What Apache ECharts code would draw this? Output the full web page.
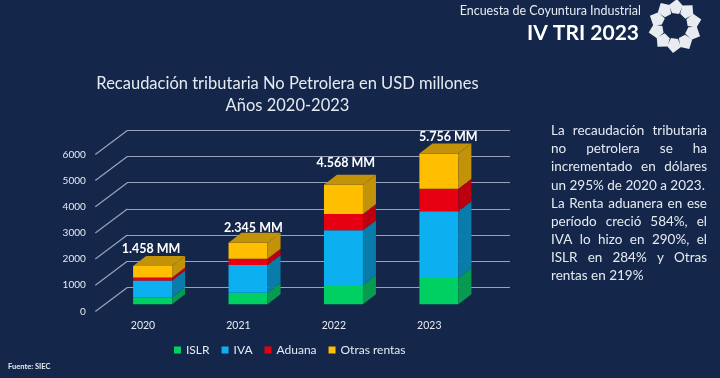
<!DOCTYPE html>
<html style="height: 100%">
<head>
  <meta charset="utf-8">
  <title>Recaudación tributaria No Petrolera</title>
</head>
<body style="height: 100%; width:100%; margin: 0; background:#14264a">
<div id="container" style="width:720px; height:378px"></div>
<script src="https://cdn.jsdelivr.net/npm/echarts@6/dist/echarts.min.js"></script>
<script type="text/javascript">
var years = ['2020', '2021', '2022', '2023'];
var islr = [270, 440, 730, 1000];
var iva = [640, 1060, 2100, 2550];
var aduana = [110, 240, 620, 860];
var otras = [438, 605, 1118, 1346];
var totalLabels = ['1.458 MM', '2.345 MM', '4.568 MM', '5.756 MM'];
var yTicks = [0, 1000, 2000, 3000, 4000, 5000, 6000];
var seriesNames = ['ISLR', 'IVA', 'Aduana', 'Otras rentas'];
var seriesValues = [islr, iva, aduana, otras];
var frontColors = ['#00cf62', '#0cb0f0', '#e60012', '#ffbf00'];
var sideColors = ['#079a50', '#0a7cab', '#bb0010', '#c29208'];
var bodyLines = [
  'La recaudación tributaria',
  'no petrolera se ha',
  'incrementado en dólares',
  'un 295% de 2020 a 2023.',
  'La Renta aduanera en ese',
  'período creció 584%, el',
  'IVA lo hizo en 290%, el',
  'ISLR en 284% y Otras',
  'rentas en 219%'
];
var raggedLines = [3, 8];   // lines that are not stretched to the column

var textColor = '#e6ebf2';
var gridColor = '#98a3bb';
var fontName = 'Lato, "Open Sans", sans-serif';

// the floor runs from the front plane to the back wall
var wallDx = 32, wallDy = -24;
// the bars stand a bit behind the front edge of the floor
var barDx = 9.6, barDy = -7.2;
var depthDx = 13, depthDy = -10;
var barWidth = 39;
// the totals were placed by hand in the original, they do not sit evenly over the bars
var labelNudgeX = [8, 15, 12, 19];
var labelNudgeY = [-7, -5, -12, -7];

var dom = document.getElementById('container');
var myChart = echarts.init(dom);

function stackedData(k) {
  return years.map(function (y, i) {
    var start = 0;
    for (var j = 0; j < k; j++) start += seriesValues[j][i];
    return [i, start, start + seriesValues[k][i]];
  });
}

function boxSeries(k) {
  var isTop = k === seriesValues.length - 1;
  return {
    name: seriesNames[k],
    type: 'custom',
    xAxisIndex: 0,
    yAxisIndex: 0,
    z: 3,
    clip: false,
    itemStyle: { color: frontColors[k] },
    encode: { x: 0, y: 2 },
    data: stackedData(k),
    renderItem: function (params, api) {
      var low = api.coord([api.value(0), api.value(1)]);
      var high = api.coord([api.value(0), api.value(2)]);
      var x0 = low[0] + barDx - barWidth / 2, x1 = x0 + barWidth;
      var y0 = low[1] + barDy, y1 = high[1] + barDy;
      var kids = [
        { type: 'rect', shape: { x: x0, y: y1, width: barWidth, height: y0 - y1 }, style: { fill: frontColors[k] } },
        { type: 'polygon', shape: { points: [[x1, y0], [x1 + depthDx, y0 + depthDy], [x1 + depthDx, y1 + depthDy], [x1, y1]] }, style: { fill: sideColors[k] } }
      ];
      if (isTop) {
        kids.push({ type: 'polygon', shape: { points: [[x0, y1], [x1, y1], [x1 + depthDx, y1 + depthDy], [x0 + depthDx, y1 + depthDy]] }, style: { fill: sideColors[k] } });
      }
      return { type: 'group', children: kids };
    }
  };
}

var series = seriesValues.map(function (v, k) { return boxSeries(k); });

// slanted floor/side lines that join the tick labels to the back wall
series.push({
  type: 'custom',
  xAxisIndex: 0,
  yAxisIndex: 0,
  z: 1,
  clip: false,
  silent: true,
  data: yTicks.map(function (t) { return [0, t]; }),
  encode: { x: 0, y: 1 },
  renderItem: function (params, api) {
    var y = api.coord([0, api.value(1)])[1];
    var x = params.coordSys.x;
    return {
      type: 'line',
      shape: { x1: x, y1: y, x2: x + wallDx, y2: y + wallDy },
      style: { stroke: gridColor, lineWidth: 1.2 }
    };
  }
});

// totals above the bars
series.push({
  type: 'custom',
  xAxisIndex: 0,
  yAxisIndex: 0,
  z: 5,
  clip: false,
  silent: true,
  data: years.map(function (y, i) {
    return [i, islr[i] + iva[i] + aduana[i] + otras[i]];
  }),
  encode: { x: 0, y: 1 },
  renderItem: function (params, api) {
    var p = api.coord([api.value(0), api.value(1)]);
    var i = params.dataIndex;
    return {
      type: 'text',
      style: {
        x: p[0] + labelNudgeX[i],
        y: p[1] + barDy + depthDy + labelNudgeY[i],
        text: totalLabels[i],
        fill: '#ffffff',
        font: 'bold 12.5px ' + fontName,
        align: 'center',
        verticalAlign: 'middle'
      }
    };
  }
});

// canvas is only used to measure words for the justified paragraph
var measure = document.createElement('canvas').getContext('2d');
var bodyFont = '13.5px ' + fontName;
measure.font = bodyFont;

function justifiedText(lines, left, right, top, step) {
  var out = [];
  lines.forEach(function (line, n) {
    var words = line.split(' ');
    var total = 0;
    words.forEach(function (w) { total += measure.measureText(w).width; });
    var gap = measure.measureText(' ').width;
    if (raggedLines.indexOf(n) < 0 && words.length > 1) {
      gap = (right - left - total) / (words.length - 1);
    }
    var x = left;
    words.forEach(function (w) {
      out.push({
        type: 'text', x: x, y: top + n * step,
        style: { text: w, fill: textColor, font: bodyFont, textVerticalAlign: 'middle' }
      });
      x += measure.measureText(w).width + gap;
    });
  });
  return out;
}

function logoPetals(cx, cy, count) {
  var out = [];
  for (var i = 0; i < count; i++) {
    out.push({
      type: 'polygon',
      x: cx, y: cy,
      rotation: -i * 2 * Math.PI / count,
      shape: { points: [[-6, -21], [2, -27], [8, -20], [4, -12], [-3, -13]] },
      style: { fill: '#e8ecf1' }
    });
  }
  return out;
}

var graphics = [
  { type: 'text', x: 641, y: 11, style: { text: 'Encuesta de Coyuntura Industrial', fill: textColor, font: '12.5px ' + fontName, textAlign: 'right', textVerticalAlign: 'middle' } },
  { type: 'text', x: 639, y: 33, style: { text: 'IV TRI 2023', fill: '#ffffff', font: 'bold 21px ' + fontName, textAlign: 'right', textVerticalAlign: 'middle' } },
  { type: 'text', x: 8, y: 367, style: { text: 'Fuente: SIEC', fill: textColor, font: 'bold 7.5px ' + fontName, textVerticalAlign: 'middle' } }
].concat(logoPetals(675, 26, 10), justifiedText(bodyLines, 551, 707, 131, 18.05));

var option = {
  animation: false,
  backgroundColor: '#14264a',
  textStyle: { fontFamily: fontName },
  title: {
    text: 'Recaudación tributaria No Petrolera en USD millones\nAños 2020-2023',
    left: 282.5,
    top: 68,
    textAlign: 'center',
    textStyle: { color: textColor, fontSize: 16.5, fontWeight: 'normal', lineHeight: 22, fontFamily: fontName }
  },
  legend: {
    data: seriesNames,
    left: 169,
    top: 339,
    icon: 'rect',
    itemWidth: 7,
    itemHeight: 7,
    itemGap: 12,
    textStyle: { color: textColor, fontSize: 12 }
  },
  grid: [
    { left: 95.3, width: 381.7, top: 154.4, height: 157 },   // front plane
    { left: 127, width: 383, top: 130.4, height: 157 }       // back wall
  ],
  xAxis: [
    {
      type: 'category', gridIndex: 0, data: years,
      axisLine: { show: false }, axisTick: { show: false },
      axisLabel: { color: textColor, fontSize: 10.5, margin: 9 }
    },
    { type: 'category', gridIndex: 1, data: years, show: false }
  ],
  yAxis: [
    {
      type: 'value', gridIndex: 0, min: 0, max: 6000, interval: 1000,
      axisLine: { show: false }, axisTick: { show: false }, splitLine: { show: false },
      axisLabel: { color: textColor, fontSize: 10, margin: 9.5, formatter: function (v) { return String(v); } }
    },
    {
      type: 'value', gridIndex: 1, min: 0, max: 6000, interval: 1000,
      axisLine: { show: false }, axisTick: { show: false }, axisLabel: { show: false },
      splitLine: { lineStyle: { color: gridColor, width: 1.2 } }
    }
  ],
  graphic: graphics,
  series: series
};

myChart.setOption(option);
</script>
</body>
</html>
